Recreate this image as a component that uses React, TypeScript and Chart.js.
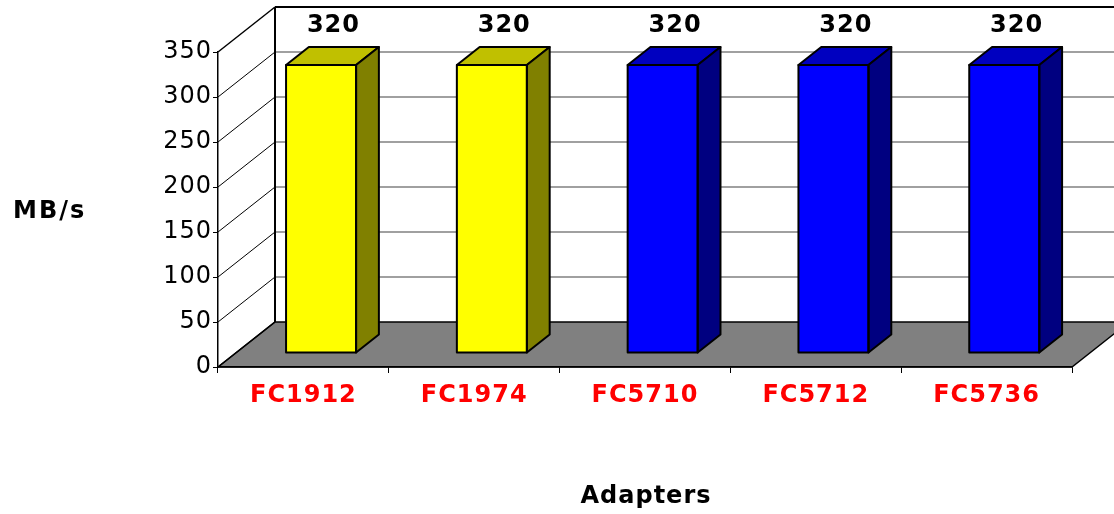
import React, { useEffect, useRef } from "react";
import { Chart, registerables } from "chart.js";

Chart.register(...registerables);

const categories = ["FC1912", "FC1974", "FC5710", "FC5712", "FC5736"];
const throughput = [320, 320, 320, 320, 320];
const frontColors = ["#FFFF00", "#FFFF00", "#0000FF", "#0000FF", "#0000FF"];
const topColors = ["#C0C000", "#C0C000", "#0000C0", "#0000C0", "#0000C0"];
const sideColors = ["#808000", "#808000", "#000080", "#000080", "#000080"];
const yMin = 0;
const yMax = 350;
const yStep = 50;
const yAxisTitle = "MB/s";
const xAxisTitle = "Adapters";

const DX = 57;
const DY = 45;
const BAR_FRONT = 0.31;
const BAR_DEPTH = 0.4;
const FONT = "'DejaVu Sans', sans-serif";

const threeD = {
  id: "threeD",
  beforeDraw(chart: any) {
    const ctx = chart.ctx as CanvasRenderingContext2D;
    (ctx as any).letterSpacing = "1px";
    const a = chart.chartArea;
    const y = chart.scales.y;
    const W = chart.width;
    const x0 = a.left;
    const x1 = a.right;
    const yb = y.getPixelForValue(yMin);
    const yt = y.getPixelForValue(yMax);
    ctx.save();
    ctx.fillStyle = "#FFFFFF";
    ctx.fillRect(0, 0, W, chart.height);
    // floor
    ctx.beginPath();
    ctx.moveTo(x0, yb);
    ctx.lineTo(x0 + DX, yb - DY);
    ctx.lineTo(x1 + DX, yb - DY);
    ctx.lineTo(x1, yb);
    ctx.closePath();
    ctx.fillStyle = "#808080";
    ctx.fill();
    ctx.strokeStyle = "#000";
    ctx.lineWidth = 1.5;
    ctx.stroke();
    // gridlines
    for (let v = yMin; v <= yMax; v += yStep) {
      const py = y.getPixelForValue(v);
      if (v > yMin) {
        ctx.beginPath();
        ctx.moveTo(x0 + DX, py - DY);
        ctx.lineTo(W, py - DY);
        ctx.strokeStyle = v === yMax ? "#000" : "#808080";
        ctx.lineWidth = v === yMax ? 2 : 1.5;
        ctx.stroke();
      }
      ctx.beginPath();
      ctx.moveTo(x0, py);
      ctx.lineTo(x0 + DX, py - DY);
      ctx.strokeStyle = "#000";
      ctx.lineWidth = v === yMax || v === yMin ? 1.5 : 1;
      ctx.stroke();
    }
    ctx.beginPath();
    ctx.moveTo(x0 + DX, yt - DY);
    ctx.lineTo(x0 + DX, yb - DY);
    ctx.strokeStyle = "#000";
    ctx.lineWidth = 2;
    ctx.stroke();
    ctx.restore();
  },
  beforeDatasetsDraw(chart: any) {
    const ctx = chart.ctx as CanvasRenderingContext2D;
    ctx.save();
    ctx.translate(DX * BAR_FRONT, -DY * BAR_FRONT);
  },
  afterDatasetsDraw(chart: any) {
    const ctx = chart.ctx as CanvasRenderingContext2D;
    const meta = chart.getDatasetMeta(0);
    const ddx = DX * BAR_DEPTH;
    const ddy = DY * BAR_DEPTH;
    const labels: { x: number; y: number; t: string }[] = [];
    meta.data.forEach((el: any, i: number) => {
      const p = el.getProps(["x", "y", "base", "width"], true);
      const xl = p.x - p.width / 2;
      const xr = p.x + p.width / 2;
      const top = p.y;
      const bot = p.base;
      ctx.lineWidth = 2;
      ctx.strokeStyle = "#000";
      ctx.lineJoin = "round";
      // top face
      ctx.beginPath();
      ctx.moveTo(xl, top);
      ctx.lineTo(xl + ddx, top - ddy);
      ctx.lineTo(xr + ddx, top - ddy);
      ctx.lineTo(xr, top);
      ctx.closePath();
      ctx.fillStyle = topColors[i];
      ctx.fill();
      ctx.stroke();
      // side face
      ctx.beginPath();
      ctx.moveTo(xr, top);
      ctx.lineTo(xr + ddx, top - ddy);
      ctx.lineTo(xr + ddx, bot - ddy);
      ctx.lineTo(xr, bot);
      ctx.closePath();
      ctx.fillStyle = sideColors[i];
      ctx.fill();
      ctx.stroke();
      // front outline
      ctx.strokeRect(xl, top, xr - xl, bot - top);
      labels.push({
        x: p.x + DX * BAR_FRONT + ddx / 2,
        y: top - DY * BAR_FRONT - ddy - 21,
        t: String(throughput[i]),
      });
    });
    ctx.restore();
    ctx.save();
    ctx.fillStyle = "#000";
    ctx.font = `bold 24px ${FONT}`;
    (ctx as any).letterSpacing = "1px";
    ctx.textAlign = "center";
    ctx.textBaseline = "middle";
    labels.forEach((l) => ctx.fillText(l.t, l.x + 1, l.y));
    ctx.restore();
  },
  afterDraw(chart: any) {
    const ctx = chart.ctx as CanvasRenderingContext2D;
    ctx.save();
    ctx.fillStyle = "#000";
    ctx.font = `bold 24px ${FONT}`;
    ctx.textBaseline = "middle";
    ctx.textAlign = "left";
    (ctx as any).letterSpacing = "2px";
    ctx.fillText(yAxisTitle, 13, 212);
    (ctx as any).letterSpacing = "1px";
    ctx.textAlign = "center";
    ctx.fillText(xAxisTitle, 646, 497);
    ctx.restore();
  },
};

export default function App() {
  const ref = useRef<HTMLCanvasElement | null>(null);
  useEffect(() => {
    if (!ref.current) return;
    const chart = new Chart(ref.current, {
      type: "bar",
      data: {
        labels: categories,
        datasets: [
          {
            data: throughput,
            backgroundColor: frontColors,
            borderColor: "#000",
            borderWidth: 0,
            barPercentage: 0.41,
            categoryPercentage: 1,
          },
        ],
      },
      options: {
        animation: false,
        responsive: true,
        maintainAspectRatio: false,
        devicePixelRatio: 1,
        layout: { padding: { top: 52, right: 42, left: 0, bottom: 0 } },
        plugins: { legend: { display: false }, tooltip: { enabled: false } },
        scales: {
          x: {
            offset: true,
            grid: {
              display: true,
              drawOnChartArea: false,
              drawTicks: true,
              tickLength: 6,
              color: "#000",
              lineWidth: 1,
              offset: true,
            },
            border: { display: true, color: "#000", width: 1.5 },
            ticks: {
              color: "#FF0000",
              font: { family: FONT, size: 24, weight: "bold" },
              padding: 8,
              maxRotation: 0,
              autoSkip: false,
            },
            afterFit: (s: any) => {
              s.height = 147;
            },
          },
          y: {
            min: yMin,
            max: yMax,
            ticks: {
              stepSize: yStep,
              color: "#000",
              font: { family: FONT, size: 24 },
              padding: 1,
            },
            grid: {
              drawOnChartArea: false,
              drawTicks: true,
              tickLength: 5,
              color: "#000",
              lineWidth: 1,
            },
            border: { display: true, color: "#000", width: 1.5 },
            afterFit: (s: any) => {
              s.width = 218;
            },
          },
        },
      },
      plugins: [threeD],
    } as any);
    return () => chart.destroy();
  }, []);
  return (
    <div style={{ position: "absolute", left: 0, top: 0, width: 1114, height: 514, background: "#fff" }}>
      <canvas ref={ref} />
    </div>
  );
}
